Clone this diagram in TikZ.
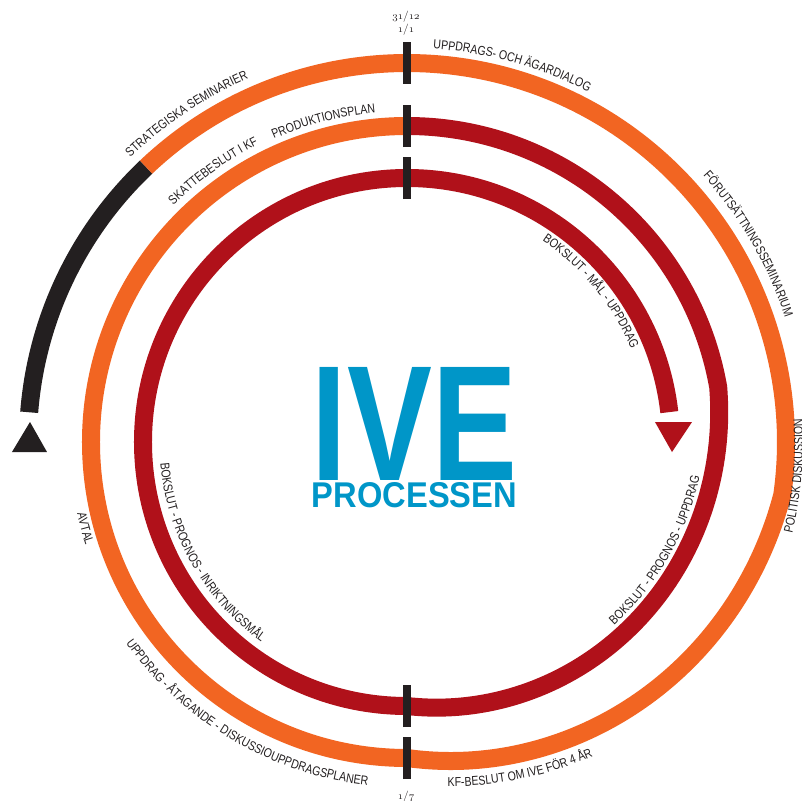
\documentclass[tikz,border=0pt]{standalone}
\usepackage{fontspec}
\usepackage{graphicx}
\usetikzlibrary{decorations.text}

\newfontfamily\labelfont[FakeStretch=0.82]{Liberation Sans}
\newfontfamily\logofont{Liberation Sans}
\newcommand{\lbl}{\labelfont\fontsize{11}{13}\selectfont}
\newcommand{\osf}[1]{{\usefont{OML}{cmm}{m}{it}#1}}

\definecolor{ringorange}{RGB}{242,101,34}
\definecolor{ringred}{RGB}{176,17,26}
\definecolor{ringblack}{RGB}{35,31,32}
\definecolor{iveblue}{RGB}{0,150,200}

\begin{document}
\begin{tikzpicture}[
    x = 0.03cm, y = 0.03cm,
    line join = round,
    ring/.style = {line width=0.54cm},
    tick/.style = {line width=0.24cm, ringblack},
    arclabel/.style = {decorate, decoration={text along path, text align=center, text color=ringblack, text={|\lbl|#1}}},
    datelabel/.style = {inner sep=0pt, text=ringblack, font=\fontsize{9.5}{10}\selectfont},
    declare function = {
        rorange(\t) = max(316, min(379, 379 - 63*(-8-(\t))/82));
        rred(\t) = max(264, min(316, 316 - 52*(10-(\t))/100));
    }
]

    \useasboundingbox[fill=white] (-407,-358) rectangle (395,442);

    \coordinate (startL) at (-395,-10);
    \coordinate (startR) at (-360,-10);
    \coordinate (startTop) at (-377,20);
    \coordinate (endL) at (248,20);
    \coordinate (endR) at (285,20);
    \coordinate (endTip) at (265,-10);

    % the year as one spiral: black start, orange, then red

    \draw[ring, ringblack] (175.5:379) arc[start angle=175.5, end angle=133.5, radius=379];
    \draw[ring, ringorange] (133.5:379) arc[start angle=133.5, end angle=-8, radius=379]
        -- plot[domain=-8:-90, samples=83] (\x:{rorange(\x)})
        arc[start angle=270, end angle=90, radius=316];
    \draw[ring, ringred] (90:316) arc[start angle=90, end angle=10, radius=316]
        -- plot[domain=10:-90, samples=101] (\x:{rred(\x)})
        arc[start angle=270, end angle=6.5, radius=264];

    \fill[ringblack] (startL) -- (startTop) -- (startR) -- cycle;
    \fill[ringred] (endL) -- (endR) -- (endTip) -- cycle;

    \foreach \r in {379, 316, 264} {
        \draw[tick] (0,\r-21) -- (0,\r+21);
    }
    \foreach \r in {316, 264} {
        \draw[tick] (0,-\r-21) -- (0,-\r+21);
    }

    \node[datelabel] (newyear) at (-1,425) {\osf{31}/\osf{12}};
    \node[datelabel] (jan) at (-1,412) {\osf{1}/\osf{1}};
    \node[datelabel] (jul) at (-1,-355) {\osf{1}/\osf{7}};

    \node[inner sep=0pt, text=iveblue] (ive) at (7.5,18.5)
        {\resizebox{6.15cm}{3.39cm}{\logofont\bfseries IVE}};
    \node[inner sep=0pt, text=iveblue] (processen) at (7.5,-53.5)
        {\resizebox{6.15cm}{0.75cm}{\logofont\bfseries PROCESSEN}};

    % texts along the rings
    \path[arclabel={UPPDRAGS- OCH ÄGARDIALOG}] (119.4:394) arc[start angle=119.4, end angle=29.4, radius=394];
    \path[arclabel={STRATEGISKA SEMINARIER}] (168.9:396.5) arc[start angle=168.9, end angle=78.9, radius=396.5];
    \path[arclabel={SKATTEBESLUT I KF}] (170.6:332.5) arc[start angle=170.6, end angle=80.6, radius=332.5];
    \path[arclabel={PRODUKTIONSPLAN}] (149.6:331) arc[start angle=149.6, end angle=59.6, radius=331];
    \path[arclabel={FÖRUTSÄTTNINGSSEMINARIUM}] (75.1:398) arc[start angle=75.1, end angle=-14.9, radius=398];
    \path[arclabel={POLITISK DISKUSSION}] (-50:396) arc[start angle=-50, end angle=40, radius=396];
    \path[arclabel={BOKSLUT - MÅL - UPPDRAG}] (84.3:242.5) arc[start angle=84.3, end angle=-5.7, radius=242.5];
    \path[arclabel={BOKSLUT - PROGNOS - UPPDRAG}] plot[domain=-60:10, samples=71] (\x:{rred(\x)-12.5});
    \path[arclabel={BOKSLUT - PROGNOS - INRIKTNINGSMÅL}] (164.4:247.5) arc[start angle=164.4, end angle=254.4, radius=247.5];
    \path[arclabel={AVTAL}] (150:337.5) arc[start angle=150, end angle=240, radius=337.5];
    \path[arclabel={UPPDRAG - ÅTAGANDE - DISKUSSIOUPPDRAGSPLANER}] (194.5:345.5) arc[start angle=194.5, end angle=284.5, radius=345.5];
    \path[arclabel={KF-BESLUT OM IVE FÖR 4 ÅR}] plot[domain=-110:-35, samples=76] (\x:{rorange(\x)+25.5});

\end{tikzpicture}
\end{document}
